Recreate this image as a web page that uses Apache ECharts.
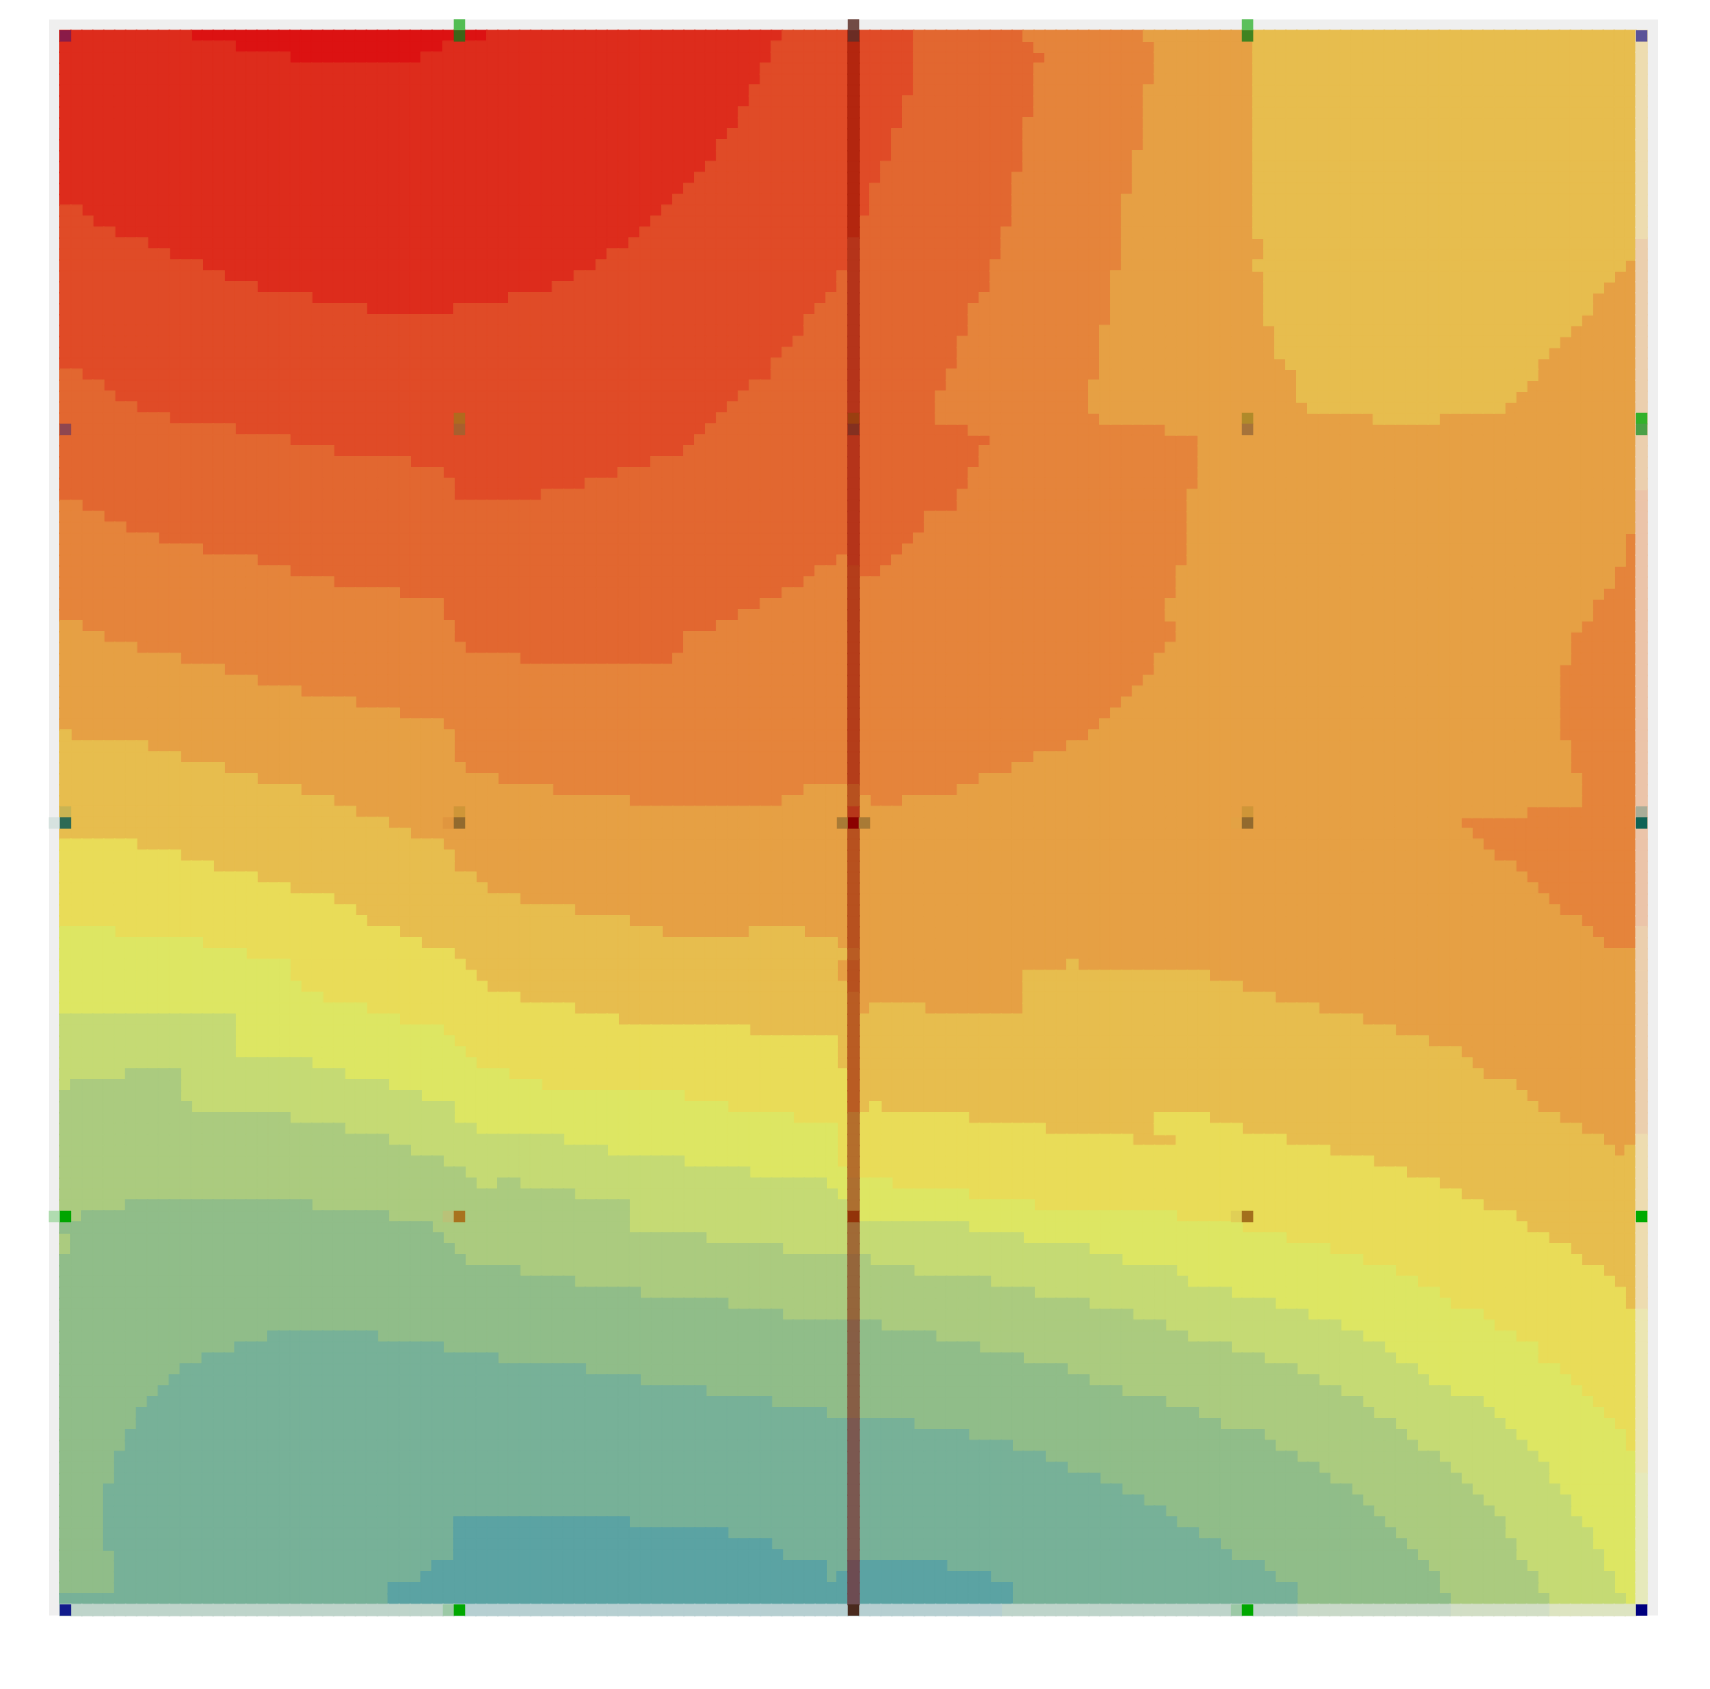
<!DOCTYPE html>
<html><head><meta charset="utf-8">
<style>html,body{margin:0;padding:0;background:#fff}#c{width:1710px;height:1689px}</style>
<script src="https://cdn.jsdelivr.net/npm/echarts@6/dist/echarts.min.js"></script>
</head><body><div id="c"></div>
<script>
const bandColors=['#dc1212','#dd2c1c','#e04b27','#e26730','#e5843b','#e6a044','#e7bd4e','#e9dc58','#dde663','#c5da74','#abcb7f','#90bd89','#77b198','#5ba3a3'];
const fadedColors=['#eebfba','#eec3bb','#edc8bd','#ebc6b0','#ebc4a9','#ebcfae','#eddcb0','#ebe6b2','#e6e9bb','#dde4c1','#d2dec5','#c9d9c8','#bed4ca','#b6cfd1'];
const lineColors=['#ad0f0b','#ae1a0e','#b3260f','#b5341a','#b43d1a','#b7511f','#b95c23','#b46e2c','#ad6f30','#a06a36','#95663b','#875e45','#7b5850','#6d4c52'];
const rowRuns=[
"1:0 0:12 1:39 2:66 3:78 4:88 5:99 6:109","1:0 0:16 1:35 2:65 3:78 4:89 5:100 6:109","1:0 0:21 1:33 2:65 3:78 4:90 5:100 6:109",
"1:0 2:64 3:78 4:89 5:100 6:109","1:0 2:64 3:78 4:89 5:100 6:109","1:0 2:63 3:78 4:89 5:99 6:109","1:0 2:63 3:77 4:89 5:99 6:109",
"1:0 2:62 3:77 4:89 5:99 6:109","1:0 2:62 3:77 4:88 5:99 6:109","1:0 2:61 3:76 4:88 5:99 6:109","1:0 2:60 3:76 4:88 5:99 6:109",
"1:0 2:60 3:76 4:88 5:98 6:109","1:0 2:59 3:75 4:88 5:98 6:109","1:0 2:58 3:75 4:87 5:98 6:109","1:0 2:57 3:74 4:87 5:98 6:109",
"1:0 2:56 3:74 4:87 5:97 6:109","2:0 1:2 2:55 3:74 4:87 5:97 6:109","2:0 1:3 2:54 3:73 4:87 5:97 6:109","2:0 1:5 2:53 3:73 4:86 5:97 6:109",
"2:0 1:8 2:52 3:72 4:86 5:97 6:110","2:0 1:10 2:50 3:72 4:86 5:97 6:110","2:0 1:13 2:49 3:72 4:85 5:97 6:109 5:143",
"2:0 1:15 2:47 3:71 4:85 5:96 6:110 5:142","2:0 1:18 2:45 3:71 4:85 5:96 6:110 5:141","2:0 1:23 2:41 3:70 4:84 5:96 6:110 5:140",
"2:0 1:28 2:36 3:69 4:83 5:96 6:110 5:140","2:0 3:68 4:83 5:96 6:110 5:139","2:0 3:68 4:83 5:95 6:111 5:138","2:0 3:67 4:82 5:95 6:111 5:137",
"2:0 3:66 4:82 5:95 6:111 5:136","2:0 3:65 4:82 5:95 6:112 5:135","3:0 2:2 3:65 4:81 5:95 6:113 5:135","3:0 2:4 3:63 4:81 5:94 6:113 5:134",
"3:0 2:5 3:62 4:80 5:94 6:113 5:133","3:0 2:7 3:61 4:80 5:94 6:114 5:132","3:0 2:10 3:60 4:80 5:95 6:120 5:126","3:0 2:16 3:59 4:83 5:101",
"3:0 2:21 3:58 4:85 5:104","3:0 2:25 3:57 4:84 5:104","3:0 2:32 3:54 4:84 5:104","3:0 2:35 3:51 4:83 5:104","3:0 2:36 3:48 4:83 5:104",
"3:0 2:36 3:44 4:82 5:103","4:0 3:2 4:82 5:103","4:0 3:4 4:79 5:103","4:0 3:6 4:79 5:103","4:0 3:9 4:78 5:103 4:143","4:0 3:13 4:77 5:103 4:143",
"4:0 3:18 4:71 3:72 4:76 5:103 4:143","4:0 3:21 4:69 3:73 4:75 5:102 4:142","4:0 3:25 4:68 5:102 4:142","4:0 3:31 4:66 5:102 4:141",
"4:0 3:35 4:64 5:101 4:140","4:0 3:35 4:62 5:101 4:140","5:0 4:2 3:36 4:60 5:102 4:139","5:0 4:4 3:36 4:57 5:102 4:138","5:0 4:7 3:37 4:57 5:101 4:138",
"5:0 4:11 3:42 4:56 5:100 4:138","5:0 4:15 5:100 4:137","5:0 4:18 5:99 4:137","5:0 4:22 5:98 4:137","5:0 4:27 5:97 4:137","5:0 4:31 5:96 4:137",
"5:0 4:35 5:95 4:137","6:0 5:1 4:36 5:94 4:137","6:0 5:8 4:36 5:92 4:138","6:0 5:11 4:36 5:89 4:138","6:0 5:15 4:37 5:87 4:138","6:0 5:18 4:40 5:84 4:139",
"6:0 5:22 4:45 5:68 4:73 5:82 4:139","6:0 5:25 4:52 5:66 4:74 5:77 4:139","6:0 5:27 4:134","6:0 5:30 4:128","6:0 5:32 4:129",
"7:0 6:7 5:35 4:130","7:0 6:11 5:36 4:131","7:0 6:14 5:36 4:133","7:0 6:18 5:38 4:134","7:0 6:21 5:39 4:135","7:0 6:25 5:42 4:136","7:0 6:27 5:47 4:137",
"7:0 6:28 5:52 4:139","8:0 7:5 6:31 5:55 6:63 5:68 4:140","8:0 7:13 6:33 5:71 4:141","8:0 7:17 6:36 5:73","8:0 7:21 6:37 5:71 6:92 5:93",
"8:0 7:21 6:38 5:71 6:88 5:105","8:0 7:22 6:39 5:72 6:88 5:108","8:0 7:24 6:42 5:73 6:88 5:111","8:0 7:28 6:47 5:73 6:74 5:79 6:88 5:115",
"9:0 8:16 7:31 6:51 5:119","9:0 8:16 7:35 6:63 5:122","9:0 8:16 7:36 6:71 5:125","9:0 8:16 7:37 6:71 5:128","9:0 8:23 7:38 6:71 5:129",
"9:0 10:6 9:11 8:26 7:41 6:72 5:130","9:0 10:1 9:11 8:30 7:44 6:72 5:133","10:0 9:11 8:33 7:57 6:72 5:134","10:0 9:12 8:36 7:61 6:72 7:74 6:75 5:135",
"10:0 9:21 8:36 7:67 6:83 7:100 6:105 5:137","10:0 9:26 8:38 7:71 6:90 7:100 6:108 5:139","10:0 9:30 8:46 7:71 6:98 7:102 6:112 5:141",
"10:0 9:32 8:50 7:71 6:116 5:142 6:143","10:0 9:35 8:57 7:71 6:120","10:0 9:37 8:63 7:72 6:123","10:0 9:38 10:40 9:42 8:70 7:76 6:126",
"10:0 9:47 8:71 7:83 6:128","10:0 11:6 10:23 9:52 8:72 7:89 6:130","10:0 11:2 10:30 9:52 8:72 7:102 6:133","11:0 10:34 9:52 8:83 7:108 6:134",
"10:0 11:1 10:35 9:59 8:88 7:112 6:136","10:0 11:1 10:36 9:66 8:94 7:116 6:138","11:0 10:37 9:74 8:97 7:119 6:139","11:0 10:42 9:78 8:102 7:122 6:141",
"11:0 10:47 9:85 8:103 7:124 6:142","11:0 10:53 9:89 8:107 7:126 6:143","11:0 10:61 9:94 8:111 7:127 6:143","11:0 10:66 9:98 8:114 7:130",
"11:0 10:75 9:101 8:117 7:131","11:0 12:19 11:29 10:80 9:103 8:119 7:133","11:0 12:16 11:35 10:84 9:107 8:121 7:135","11:0 12:13 11:40 10:88 9:110 8:122 7:135",
"11:0 12:11 11:48 10:92 9:113 8:124 7:137","11:0 12:10 11:53 10:94 9:115 8:125 7:138","11:0 12:9 11:59 10:97 9:117 8:127 7:139","11:0 12:8 11:65 10:101 9:119 8:130 7:140",
"11:0 12:7 11:70 10:104 9:120 8:131 7:141","11:0 12:7 11:78 10:106 9:122 8:132 7:142","11:0 12:6 11:83 10:110 9:123 8:133 7:143","11:0 12:6 11:87 10:111 9:124 8:134 7:143",
"11:0 12:5 11:90 10:113 9:126 8:135","11:0 12:5 11:92 10:115 9:127 8:136","11:0 12:5 11:95 10:116 9:128 8:136","11:0 12:4 11:97 10:118 9:129 8:137",
"11:0 12:4 11:99 10:119 9:130 8:138","11:0 12:4 11:101 10:120 9:131 8:138","11:0 12:4 13:36 12:52 11:102 10:121 9:132 8:139","11:0 12:4 13:36 12:61 11:104 10:122 9:132 8:140",
"11:0 12:4 13:36 12:65 11:106 10:123 9:133 8:140","11:0 12:5 13:36 12:66 11:107 10:124 9:133 8:141","11:0 12:5 13:34 12:70 13:72 12:81 11:110 10:125 9:134 8:141",
"11:0 12:5 13:33 12:70 13:71 12:85 11:111 10:126 9:135 8:142","11:0 12:5 13:30 12:87 11:113 10:126 9:135 8:142","12:0 13:30 12:87 11:113 10:127 9:136 8:143",
"12:0 13:36 12:86 11:113 10:127 9:136"];
const lastColumnRuns="6:0 5:19 4:42 5:82 6:101 7:117 8:132";
const overlayColumn=72;
const markers=[
[36,-1,'#52bd52'],[72,-1,'#724b45'],[108,-1,'#5bc05b'],
[0,0,'#8a1b48'],[36,0,'#3d6518'],[72,0,'#6b2c24'],[108,0,'#408320'],[144,0,'#5a5298'],
[36,35,'#b06a1e'],[72,35,'#9a3f10'],[108,35,'#b08a2a'],[144,35,'#33b12a'],
[0,36,'#8f4650'],[36,36,'#a85f2e'],[72,36,'#843020'],[108,36,'#a6733a'],[144,36,'#4aa046'],
[0,71,'#c9b453'],[36,71,'#cf9638'],[72,71,'#b7371a'],[108,71,'#cf9638'],[144,71,'#a9ad98'],
[-1,72,'#d6e2df'],[0,72,'#2d6a54'],[35,72,'#e0963f'],[36,72,'#926a2e'],[71,72,'#a87a35'],[72,72,'#8b0000'],[73,72,'#a87a35'],[107,72,'#e3a244'],[108,72,'#926a2e'],[144,72,'#0f6355'],
[-1,108,'#b0dcb0'],[0,108,'#00a500'],[35,108,'#b9c278'],[36,108,'#a8731e'],[72,108,'#923309'],[107,108,'#e0cf56'],[108,108,'#a3701c'],[144,108,'#00aa00'],
[0,144,'#121c8c'],[35,144,'#9cc9a6'],[36,144,'#00a800'],[72,144,'#4a2a1e'],[107,144,'#9cc9a6'],[108,144,'#00a800'],[144,144,'#00007f']];

const xCategories=[];for(let i=-1;i<=145;i++)xCategories.push(String(i));
const yCategories=[];for(let i=-1;i<=144;i++)yCategories.push(String(i));
function expand(runs,len){
  const p=runs.split(' ').map(s=>s.split(':').map(Number));
  const out=[];
  p.forEach((e,i)=>{const end=i+1<p.length?p[i+1][1]:len;for(let k=e[1];k<end;k++)out[k]=e[0];});
  return out;
}
const solid=bandColors.map(()=>[]),faded=bandColors.map(()=>[]),centre=bandColors.map(()=>[]);
rowRuns.forEach((runs,r)=>{
  expand(runs,144).forEach((b,c)=>{
    const target=r===144?faded:(c===overlayColumn?centre:solid);
    target[b].push([c+1,r+1,b]);
  });
});
expand(lastColumnRuns,144).forEach((b,r)=>faded[b].push([145,r+1,b]));
const heat=(name,data,color,z)=>({type:'heatmap',name,data,z,progressive:0,silent:true,animation:false,
  itemStyle:{color,opacity:1,borderColor:color,borderWidth:1.02},emphasis:{disabled:true}});
const series=[];
solid.forEach((d,b)=>{if(d.length)series.push(heat('band '+b,d,bandColors[b],2));});
faded.forEach((d,b)=>{if(d.length)series.push(heat('edge '+b,d,fadedColors[b],2));});
centre.forEach((d,b)=>{if(d.length)series.push(heat('centre '+b,d,lineColors[b],3));});
series.push({type:'heatmap',name:'markers',z:4,progressive:0,silent:true,animation:false,
  data:markers.map(m=>({value:[m[0]+1,m[1]+1,1],itemStyle:{color:m[2]}}))});
const chart=echarts.init(document.getElementById('c'),null,{renderer:'canvas'});
chart.setOption({animation:false,backgroundColor:'#fff',
  grid:{show:true,left:49,top:19.5,width:1609,height:1596,backgroundColor:'#efefef',borderWidth:0},
  xAxis:{type:'category',data:xCategories,show:false,splitArea:{show:false}},
  yAxis:{type:'category',data:yCategories,inverse:true,show:false,splitArea:{show:false}},
  series});
</script></body></html>
